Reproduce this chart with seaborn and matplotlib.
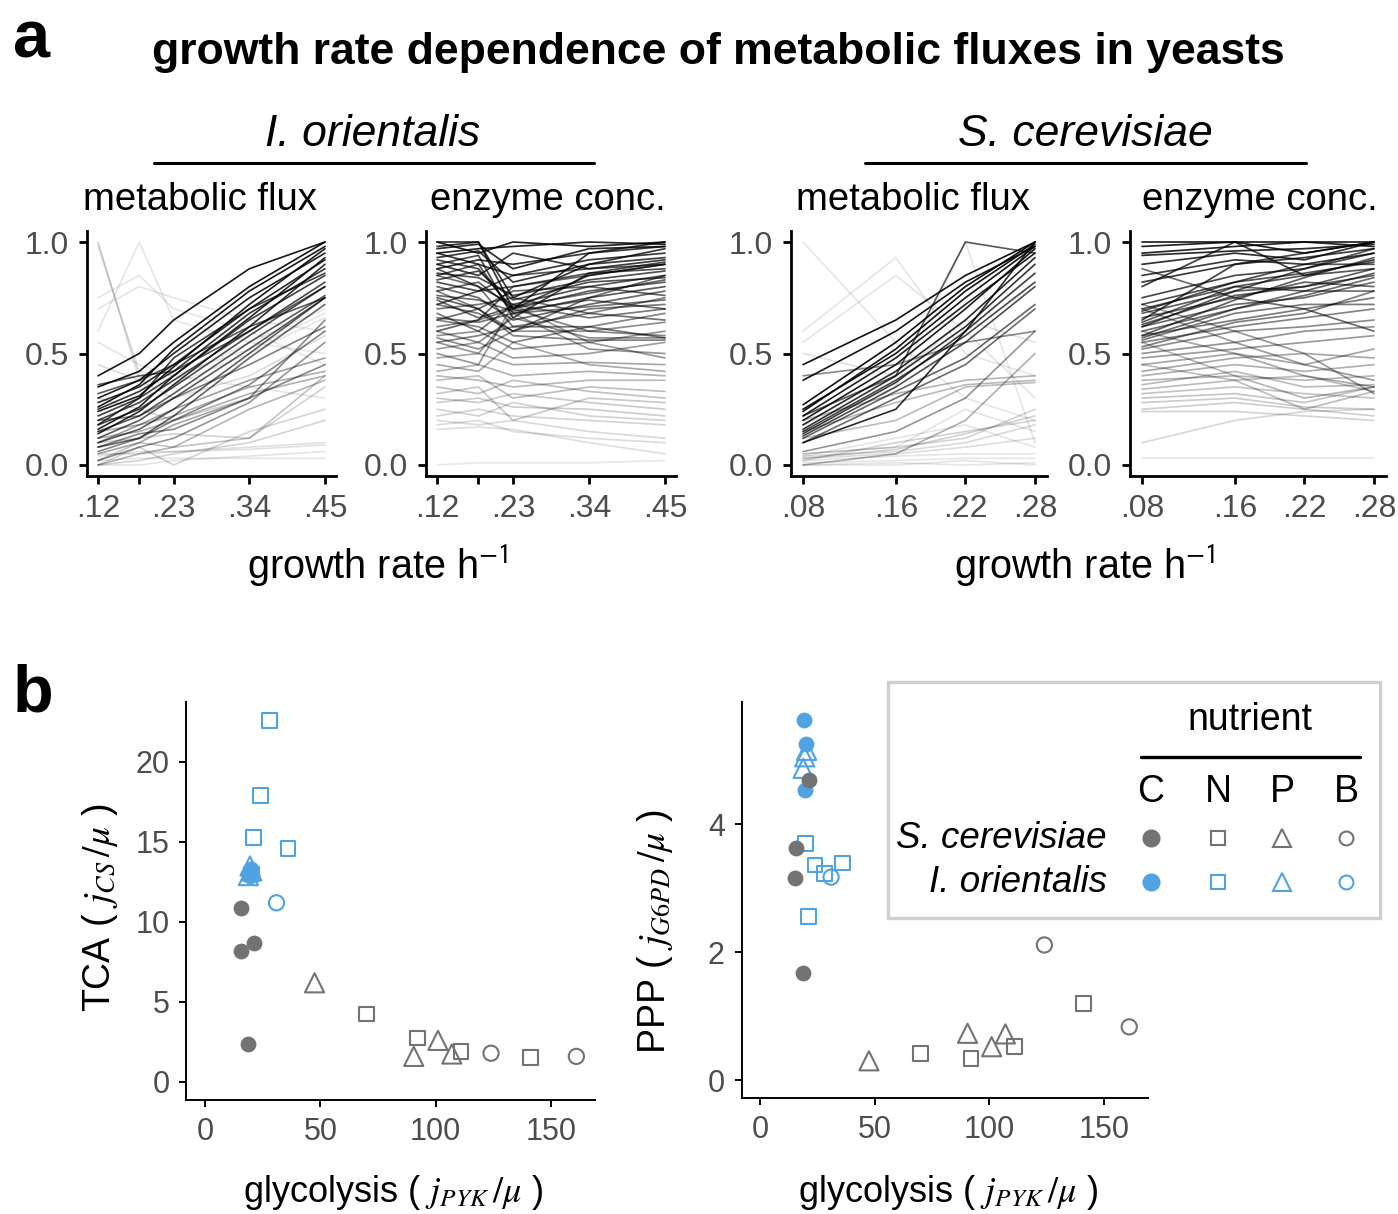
import numpy as np
import pandas as pd
import matplotlib
matplotlib.use("Agg")
import matplotlib.pyplot as plt
import matplotlib.patches as mpatches
import seaborn as sns

sns.set_theme(style="white")
plt.rcParams["font.family"] = ["Liberation Sans", "DejaVu Sans"]
plt.rcParams["mathtext.fontset"] = "stix"
plt.rcParams["text.color"] = "black"
plt.rcParams["axes.labelcolor"] = "black"

# ---------------------------------------------------------------- data (a)
GR_IO = [0.12, 0.18, 0.23, 0.34, 0.45]
GR_SC = [0.08, 0.16, 0.22, 0.28]
IO_TICK_LABELS = [".12", "", ".23", ".34", ".45"]
SC_TICK_LABELS = [".08", ".16", ".22", ".28"]

IO_FLUX = [
    [0.40, 0.50, 0.65, 0.88, 1.00], [0.35, 0.42, 0.55, 0.80, 1.00],
    [0.30, 0.38, 0.50, 0.75, 0.95], [0.28, 0.35, 0.45, 0.70, 0.92],
    [0.25, 0.33, 0.42, 0.68, 0.88], [0.22, 0.30, 0.40, 0.65, 0.85],
    [0.20, 0.28, 0.38, 0.60, 0.82], [0.18, 0.25, 0.35, 0.58, 0.80],
    [0.15, 0.22, 0.32, 0.55, 0.76], [0.12, 0.20, 0.30, 0.52, 0.75],
    [0.10, 0.16, 0.25, 0.50, 0.75], [0.08, 0.12, 0.22, 0.48, 0.72],
    [0.20, 0.22, 0.30, 0.45, 0.62], [0.32, 0.38, 0.45, 0.62, 0.75],
    [0.36, 0.40, 0.42, 0.60, 0.80], [0.24, 0.31, 0.44, 0.72, 0.97],
    [0.14, 0.24, 0.36, 0.62, 0.90], [0.18, 0.30, 0.48, 0.70, 0.86],
    [0.26, 0.36, 0.52, 0.78, 0.98], [0.16, 0.26, 0.40, 0.66, 0.93],
    [0.10, 0.18, 0.25, 0.38, 0.48], [0.05, 0.10, 0.18, 0.30, 0.45],
    [0.12, 0.15, 0.20, 0.32, 0.40], [0.02, 0.08, 0.12, 0.28, 0.55],
    [0.00, 0.05, 0.08, 0.25, 0.38], [0.15, 0.18, 0.22, 0.35, 0.42],
    [0.06, 0.12, 0.20, 0.36, 0.60], [0.08, 0.14, 0.16, 0.30, 0.65],
    [1.00, 0.40, 0.38, 0.55, 0.70], [1.00, 0.38, 0.36, 0.50, 0.66],
    [0.98, 0.42, 0.40, 0.52, 0.68],
    [0.60, 1.00, 0.65, 0.55, 0.50], [0.75, 0.85, 0.70, 0.60, 0.45],
    [0.70, 0.80, 0.75, 0.65, 0.60], [0.55, 0.45, 0.40, 0.35, 0.30],
    [0.05, 0.05, 0.06, 0.08, 0.10], [0.04, 0.06, 0.06, 0.07, 0.09],
    [0.02, 0.03, 0.03, 0.03, 0.03], [0.00, 0.02, 0.05, 0.10, 0.20],
    [0.00, 0.00, 0.02, 0.04, 0.06], [0.10, 0.12, 0.14, 0.12, 0.35],
    [0.00, 0.08, 0.00, 0.15, 0.25], [0.30, 0.25, 0.20, 0.30, 0.45],
    [0.45, 0.38, 0.30, 0.40, 0.58], [0.02, 0.10, 0.08, 0.12, 0.40],
]

IO_ENZ = [
    [1.00, 1.00, 0.70, 0.95, 1.00], [0.98, 1.00, 0.75, 0.90, 0.97],
    [1.00, 0.95, 1.00, 0.98, 1.00], [0.95, 0.90, 0.85, 0.92, 0.95],
    [0.92, 0.88, 0.70, 0.85, 0.90], [0.90, 0.85, 0.95, 0.88, 0.92],
    [0.88, 0.80, 0.72, 0.80, 0.85], [0.85, 0.90, 0.68, 0.75, 0.80],
    [0.82, 0.78, 0.80, 0.86, 0.88], [0.80, 0.75, 0.65, 0.72, 0.78],
    [0.78, 0.82, 0.70, 0.78, 0.82], [0.75, 0.70, 0.78, 0.80, 0.76],
    [0.72, 0.68, 0.60, 0.70, 0.72], [0.70, 0.72, 0.75, 0.68, 0.65],
    [0.68, 0.60, 0.72, 0.66, 0.70], [0.65, 0.62, 0.55, 0.62, 0.68],
    [0.62, 0.65, 0.70, 0.60, 0.58], [0.60, 0.55, 0.66, 0.57, 0.57],
    [0.58, 0.60, 0.52, 0.55, 0.60], [0.55, 0.50, 0.68, 0.52, 0.50],
    [0.52, 0.55, 0.48, 0.50, 0.55], [0.50, 0.45, 0.72, 0.55, 0.48],
    [0.48, 0.50, 0.45, 0.46, 0.45], [0.45, 0.42, 0.55, 0.45, 0.42],
    [0.42, 0.45, 0.40, 0.42, 0.40], [0.40, 0.38, 0.35, 0.38, 0.38],
    [0.38, 0.40, 0.30, 0.35, 0.33], [0.35, 0.32, 0.38, 0.33, 0.30],
    [0.32, 0.35, 0.20, 0.30, 0.28], [0.30, 0.28, 0.32, 0.28, 0.25],
    [0.28, 0.30, 0.26, 0.25, 0.22], [0.25, 0.22, 0.28, 0.22, 0.20],
    [0.22, 0.25, 0.22, 0.20, 0.18], [0.20, 0.18, 0.20, 0.15, 0.12],
    [0.18, 0.20, 0.15, 0.12, 0.10], [0.16, 0.17, 0.16, 0.10, 0.05],
    [0.00, 0.01, 0.01, 0.01, 0.02], [0.95, 0.97, 0.98, 1.00, 0.99],
    [0.88, 0.92, 0.90, 0.95, 0.98], [0.72, 0.78, 0.85, 0.88, 0.90],
    [0.65, 0.70, 0.60, 0.75, 0.85], [0.55, 0.58, 0.62, 0.68, 0.75],
    [0.85, 0.80, 0.62, 0.62, 0.57], [0.78, 0.70, 0.58, 0.56, 0.56],
    [0.60, 0.65, 0.80, 0.85, 0.90], [0.93, 0.96, 0.82, 0.90, 0.93],
    [0.86, 0.84, 0.76, 0.83, 0.87], [0.76, 0.74, 0.69, 0.74, 0.70],
    [0.97, 0.99, 0.88, 0.97, 0.98], [0.90, 0.94, 0.66, 0.86, 0.91],
    [0.83, 0.87, 0.74, 0.82, 0.84], [0.74, 0.66, 0.71, 0.77, 0.83],
    [0.66, 0.64, 0.68, 0.71, 0.74], [0.57, 0.52, 0.60, 0.60, 0.64],
]

SC_FLUX = [
    [0.27, 0.55, 0.80, 1.00], [0.25, 0.50, 0.75, 0.98],
    [0.22, 0.48, 0.72, 0.95], [0.20, 0.45, 0.70, 0.97],
    [0.18, 0.42, 0.65, 0.93], [0.16, 0.40, 0.62, 0.90],
    [0.15, 0.38, 0.58, 0.82], [0.13, 0.35, 0.55, 0.80],
    [0.12, 0.33, 0.48, 0.72], [0.10, 0.30, 0.45, 0.70],
    [0.45, 0.65, 0.85, 1.00], [0.38, 0.60, 0.82, 0.98],
    [0.20, 0.32, 0.38, 0.40], [0.15, 0.28, 0.36, 0.38],
    [0.12, 0.20, 0.35, 0.37], [0.22, 0.40, 1.00, 0.95],
    [0.18, 0.35, 1.00, 0.10], [0.10, 0.25, 0.60, 1.00],
    [0.24, 0.52, 0.78, 0.99], [0.14, 0.37, 0.60, 0.86],
    [1.00, 0.55, 0.30, 0.20], [0.60, 0.93, 0.50, 0.40],
    [0.55, 0.85, 0.60, 0.30], [0.50, 0.40, 0.65, 0.55],
    [0.40, 0.45, 0.55, 0.60], [0.05, 0.08, 0.25, 0.15],
    [0.04, 0.06, 0.10, 0.18], [0.03, 0.05, 0.08, 0.12],
    [0.02, 0.10, 0.15, 0.20], [0.00, 0.00, 0.02, 0.00],
    [0.00, 0.01, 0.00, 0.01], [0.05, 0.08, 0.12, 0.25],
    [0.02, 0.04, 0.05, 0.05], [0.00, 0.05, 0.20, 0.50],
    [0.06, 0.15, 0.30, 0.60], [0.04, 0.12, 0.18, 0.08],
    [0.01, 0.02, 0.03, 0.03], [0.03, 0.07, 0.14, 0.22],
]

SC_ENZ = [
    [1.00, 1.00, 1.00, 1.00], [0.98, 1.00, 0.95, 1.00],
    [0.95, 0.98, 1.00, 0.98], [0.90, 0.95, 0.92, 1.00],
    [0.85, 0.92, 0.90, 0.95], [0.80, 1.00, 0.85, 0.92],
    [0.75, 0.85, 0.88, 0.95], [0.72, 0.82, 0.90, 0.90],
    [0.70, 0.80, 0.85, 0.88], [0.68, 0.78, 0.80, 0.85],
    [0.66, 0.75, 0.82, 0.80], [0.64, 0.80, 0.78, 0.86],
    [0.62, 0.72, 0.75, 0.82], [0.60, 0.70, 0.78, 0.78],
    [0.58, 0.65, 0.70, 0.75], [0.56, 0.68, 0.72, 0.72],
    [0.55, 0.62, 0.66, 0.70], [0.52, 0.60, 0.62, 0.65],
    [0.50, 0.55, 0.60, 0.62], [0.48, 0.52, 0.55, 0.58],
    [0.45, 0.50, 0.45, 0.52], [0.42, 0.48, 0.50, 0.48],
    [0.40, 0.45, 0.42, 0.45], [0.38, 0.40, 0.38, 0.40],
    [0.36, 0.42, 0.35, 0.36], [0.34, 0.38, 0.40, 0.33],
    [0.32, 0.35, 0.32, 0.30], [0.30, 0.32, 0.28, 0.35],
    [0.28, 0.30, 0.26, 0.25], [0.25, 0.28, 0.25, 0.22],
    [0.24, 0.24, 0.22, 0.20], [0.10, 0.20, 0.24, 0.25],
    [0.03, 0.03, 0.03, 0.03], [0.60, 0.50, 0.40, 0.35],
    [0.70, 0.55, 0.45, 0.38], [0.55, 0.40, 0.30, 0.35],
    [0.65, 0.90, 0.95, 1.00], [0.72, 0.60, 0.50, 0.32],
    [0.88, 0.75, 0.70, 0.60], [0.45, 0.38, 0.25, 0.33],
    [0.62, 0.78, 0.88, 0.97], [0.58, 0.74, 0.84, 0.93],
    [0.94, 0.96, 0.97, 0.99], [0.82, 0.90, 0.93, 0.97],
    [0.69, 0.82, 0.86, 0.91], [0.63, 0.76, 0.80, 0.88],
    [0.57, 0.70, 0.76, 0.84], [0.53, 0.64, 0.68, 0.78],
]

# ---------------------------------------------------------------- data (b)
SPECIES = (["S. cerevisiae"] * 14) + (["I. orientalis"] * 12)
NUTRIENT = (["C"] * 4 + ["N"] * 4 + ["P"] * 4 + ["B"] * 2
            + ["C"] * 3 + ["N"] * 5 + ["P"] * 3 + ["B"] * 1)
GLYCOLYSIS = [15.6, 15.4, 21.2, 18.6, 70, 92, 111, 141, 47.5, 90.5, 101, 107, 124, 161,
              19.0, 20.0, 19.6, 28, 24, 21, 36, 20, 19.5, 18.8, 20.3, 31]
TCA = [10.9, 8.2, 8.7, 2.4, 4.25, 2.75, 1.9, 1.55, 6.2, 1.6, 2.6, 1.75, 1.8, 1.6,
       13.0, 13.3, 12.9, 22.6, 17.9, 15.3, 14.6, 13.0, 13.5, 12.9, 13.2, 11.2]
PPP = [3.63, 3.16, 4.69, 1.67, 0.42, 0.34, 0.52, 1.2, 0.3, 0.73, 0.52, 0.72, 2.11, 0.83,
       5.62, 5.25, 4.53, 3.23, 3.36, 2.56, 3.39, 3.7, 5.05, 4.87, 5.15, 3.17]

# ---------------------------------------------------------------- style
W, H = 1398, 1214
GRAY = "#737373"
BLUE = "#4FA3E3"
TICKGRAY = "#4D4D4D"
SPECIES_COLORS = {"S. cerevisiae": GRAY, "I. orientalis": BLUE}
NUT_MARKER = {"C": "o", "N": "s", "P": "^", "B": "o"}
NUT_SIZE = {"C": 130, "N": 115, "P": 190, "B": 120}

fig = plt.figure(figsize=(W / 100, H / 100), dpi=100)


def add_axes_px(x_anchor, y_anchor, xlim, ylim):
    (xd0, xp0), (xd1, xp1) = x_anchor
    (yd0, yp0), (yd1, yp1) = y_anchor
    sx = (xp1 - xp0) / (xd1 - xd0)
    sy = (yp1 - yp0) / (yd1 - yd0)
    left = xp0 + (xlim[0] - xd0) * sx
    right = xp0 + (xlim[1] - xd0) * sx
    top = yp0 + (ylim[1] - yd0) * sy
    bottom = yp0 + (ylim[0] - yd0) * sy
    ax = fig.add_axes([left / W, 1 - bottom / H, (right - left) / W, (bottom - top) / H])
    ax.set_xlim(xlim)
    ax.set_ylim(ylim)
    return ax


def style_axes(ax, lw, ticklen, labelsize):
    for s in ["top", "right"]:
        ax.spines[s].set_visible(False)
    for s in ["left", "bottom"]:
        ax.spines[s].set_color("black")
        ax.spines[s].set_linewidth(lw)
    ax.tick_params(axis="both", which="both", direction="out", length=ticklen, width=lw,
                   color="black", labelcolor=TICKGRAY, labelsize=labelsize, pad=7,
                   left=True, bottom=True)
    ax.set_xlabel("")
    ax.set_ylabel("")
    ax.grid(False)
    ax.set_facecolor("none")


def draw_profiles(ax, gr, profiles, kind):
    rows = []
    for i, p in enumerate(profiles):
        for g, v in zip(gr, p):
            rows.append((i, g, v))
    df = pd.DataFrame(rows, columns=["id", "gr", "val"])
    for i, sub in df.groupby("id"):
        v = sub["val"].to_numpy()
        g = sub["gr"].to_numpy()
        if kind == "flux":
            c = np.corrcoef(g, v)[0, 1] if v.std() > 0 else 0.0
            c = 0.0 if np.isnan(c) else c
            a = 0.10 + 0.84 * max(c, 0) ** 4 * min(max(v[-1], 0), 1) ** 1.5
            lw = 1.2
        else:
            a = 0.09 + 0.78 * v.mean() ** 1.5
            lw = 1.25
        sns.lineplot(data=sub, x="gr", y="val", color="black", alpha=min(a, 1.0), lw=lw,
                     ax=ax, estimator=None, sort=True, legend=False)


def expand(lo, hi, f=0.05):
    r = hi - lo
    return (lo - f * r, hi + f * r)


panels = [
    (GR_IO, IO_FLUX, "flux", ((0.12, 98), (0.45, 325)), IO_TICK_LABELS),
    (GR_IO, IO_ENZ, "enz", ((0.12, 437), (0.45, 665)), IO_TICK_LABELS),
    (GR_SC, SC_FLUX, "flux", ((0.08, 803), (0.28, 1035)), SC_TICK_LABELS),
    (GR_SC, SC_ENZ, "enz", ((0.08, 1142), (0.28, 1374)), SC_TICK_LABELS),
]
for gr, prof, kind, xa, tl in panels:
    ax = add_axes_px(xa, ((0.0, 465), (1.0, 242)), expand(min(gr), max(gr)), (-0.05, 1.05))
    draw_profiles(ax, gr, prof, kind)
    ax.set_xlim(expand(min(gr), max(gr)))
    ax.set_ylim(-0.05, 1.05)
    ax.set_xticks(gr)
    ax.set_xticklabels(tl)
    ax.set_yticks([0.0, 0.5, 1.0])
    ax.set_yticklabels(["0.0", "0.5", "1.0"])
    style_axes(ax, 2.0, 6, 23)

# ---------------------------------------------------------------- panel b
df = pd.DataFrame({"species": SPECIES, "nutrient": NUTRIENT,
                   "glyc": GLYCOLYSIS, "tca": TCA, "ppp": PPP})

scat = [
    ("tca", ((0, 205), (150, 551)), ((0, 1082), (20, 762)), [0, 5, 10, 15, 20]),
    ("ppp", ((0, 760), (150, 1104)), ((0, 1080), (4, 824)), [0, 2, 4]),
]
for ycol, xa, ya, yticks in scat:
    xl = expand(0, df["glyc"].max())
    yl = expand(0, df[ycol].max())
    ax = add_axes_px(xa, ya, xl, yl)
    for sp in ["I. orientalis", "S. cerevisiae"]:
        col = SPECIES_COLORS[sp]
        for nut in ["N", "B", "P", "C"]:
            sub = df[(df.species == sp) & (df.nutrient == nut)]
            if sub.empty:
                continue
            if nut == "C":
                sns.scatterplot(data=sub, x="glyc", y=ycol, marker="o", s=NUT_SIZE[nut],
                                color=col, edgecolor=col, linewidth=0, ax=ax, legend=False)
            else:
                sns.scatterplot(data=sub, x="glyc", y=ycol, marker=NUT_MARKER[nut],
                                s=NUT_SIZE[nut], color=col, facecolor="none", edgecolor=col,
                                linewidth=1.5, ax=ax, legend=False)
    ax.set_xlim(xl)
    ax.set_ylim(yl)
    ax.set_xticks([0, 50, 100, 150])
    ax.set_yticks(yticks)
    style_axes(ax, 1.4, 5, 22)

# ---------------------------------------------------------------- overlay text
ov = fig.add_axes([0, 0, 1, 1])
ov.set_xlim(0, W)
ov.set_ylim(H, 0)
ov.axis("off")
ov.patch.set_alpha(0)

ov.text(13, 57, "a", fontsize=48, fontweight="bold", ha="left", va="baseline")
ov.text(13, 711, "b", fontsize=48, fontweight="bold", ha="left", va="baseline")
ov.text(718, 64, "growth rate dependence of metabolic fluxes in yeasts",
        fontsize=32, fontweight="bold", ha="center", va="baseline")
ov.text(373, 146, "I. orientalis", fontsize=32, style="italic", ha="center", va="baseline")
ov.text(1085, 146, "S. cerevisiae", fontsize=32, style="italic", ha="center", va="baseline")
ov.plot([154, 594], [163, 163], color="black", lw=2.2)
ov.plot([865, 1306], [163, 163], color="black", lw=2.2)
for x, t in [(200, "metabolic flux"), (548, "enzyme conc."),
             (913, "metabolic flux"), (1260, "enzyme conc.")]:
    ov.text(x, 210, t, fontsize=27.5, ha="center", va="baseline")
for x in [378, 1085]:
    ov.text(x, 578, r"growth rate h$^{\mathsf{-1}}$", fontsize=28.5, ha="center", va="baseline")

ov.text(100, 908, r"TCA ( $j_{CS}\,/\mu$ )", fontsize=27, rotation=90, ha="center", va="center")
ov.text(655, 932, r"PPP ( $j_{G6PD}\,/\mu$ )", fontsize=27, rotation=90, ha="center", va="center")
for x in [393, 948]:
    ov.text(x, 1192, r"glycolysis ( $j_{PYK}\,/\mu$ )", fontsize=26, ha="center", va="center")

# legend
ov.add_patch(mpatches.Rectangle((888, 682), 492, 236, fill=False, edgecolor="#CFCFCF", lw=2.4))
ov.text(1250, 720, "nutrient", fontsize=27, ha="center", va="center")
ov.plot([1141, 1360], [757, 757], color="black", lw=2.4)
LEG_X = [1151, 1218, 1282, 1346]
for x, n in zip(LEG_X, ["C", "N", "P", "B"]):
    ov.text(x, 792, n, fontsize=27, ha="center", va="center")
for y, sp in [(838, "S. cerevisiae"), (882, "I. orientalis")]:
    ov.text(1107, y, sp, fontsize=26.5, style="italic", ha="right", va="center")
    col = SPECIES_COLORS[sp]
    for x, n, ms in zip(LEG_X, ["C", "N", "P", "B"], [12, 10, 13, 10]):
        if n == "C":
            ov.plot([x], [y], marker="o", ms=ms, color=col, mec=col, ls="none")
        else:
            ov.plot([x], [y], marker=NUT_MARKER[n], ms=ms, mfc="none", mec=col, mew=1.5, ls="none")

fig.savefig("out.png", dpi=100, facecolor="white")
